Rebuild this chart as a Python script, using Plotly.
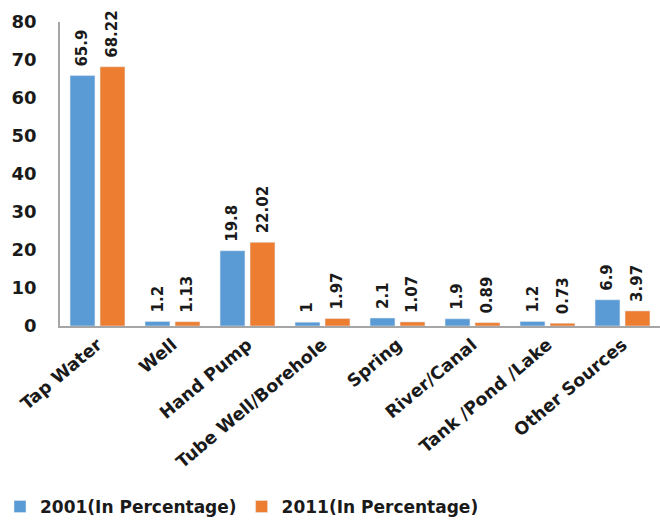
import plotly.graph_objects as go

categories = ["Tap Water", "Well", "Hand Pump", "Tube Well/Borehole", "Spring",
              "River/Canal", "Tank /Pond /Lake", "Other Sources"]
pct_2001 = [65.9, 1.2, 19.8, 1, 2.1, 1.9, 1.2, 6.9]
pct_2011 = [68.22, 1.13, 22.02, 1.97, 1.07, 0.89, 0.73, 3.97]
labels_2001 = ["65.9", "1.2", "19.8", "1", "2.1", "1.9", "1.2", "6.9"]
labels_2011 = ["68.22", "1.13", "22.02", "1.97", "1.07", "0.89", "0.73", "3.97"]

W, H = 660, 521
M = dict(l=60, r=0, t=22, b=195)
BARGAP, GROUPGAP = 0.2, 0.17

tick_font = dict(family="DejaVu Sans", size=17.5, color="#1a1a1a", weight="bold")
label_font = dict(family="DejaVu Sans", size=15, color="#1a1a1a", weight="bold")

fig = go.Figure()
fig.add_trace(go.Bar(name="2001(In Percentage)", x=categories, y=pct_2001,
                     marker_color="#5B9BD5"))
fig.add_trace(go.Bar(name="2011(In Percentage)", x=categories, y=pct_2011,
                     marker_color="#ED7D31"))

# value labels, rotated, sitting just above each bar
cat_px = (W - M["l"] - M["r"]) / len(categories)
slot_px = cat_px * (1 - BARGAP) / 2
for vals, labs, side in ((pct_2001, labels_2001, -1), (pct_2011, labels_2011, 1)):
    for c, v, t in zip(categories, vals, labs):
        fig.add_annotation(x=c, y=v, text=t, showarrow=False, textangle=-90,
                           xanchor="center", yanchor="bottom",
                           xshift=side * slot_px / 2, yshift=7,
                           font=label_font)

fig.update_layout(
    width=W, height=H, margin=M,
    plot_bgcolor="white", paper_bgcolor="white",
    barmode="group", bargap=BARGAP, bargroupgap=GROUPGAP,
    showlegend=True,
    legend=dict(orientation="h", xref="container", yref="container",
                x=0.0, y=0.027, xanchor="left", yanchor="middle",
                font=dict(family="DejaVu Sans", size=17, color="#1a1a1a", weight="bold"),
                itemwidth=30, traceorder="normal"),
    xaxis=dict(tickangle=-40, tickfont=tick_font, showline=True, linecolor="#a6a6a6",
               linewidth=1.5, ticks="", showgrid=False, automargin=False),
    yaxis=dict(range=[0, 80], dtick=10,
               tickfont=dict(family="DejaVu Sans", size=18, color="#1a1a1a", weight="bold"),
               showline=True, linecolor="#a6a6a6", linewidth=1.5, ticks="",
               showgrid=False, zeroline=False, ticklabelstandoff=18, automargin=False),
)

fig.write_html("out.html")
